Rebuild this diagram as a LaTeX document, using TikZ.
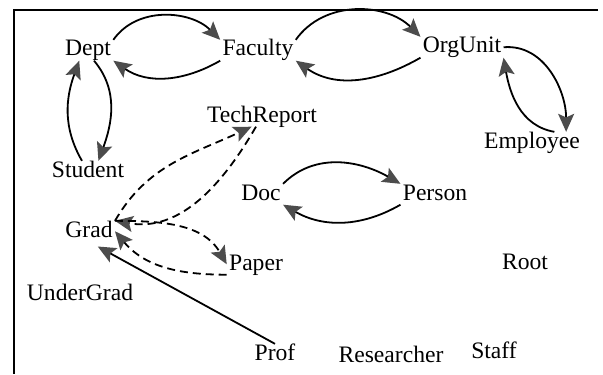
\documentclass[tikz,border=0pt]{standalone}
\usepackage{fontspec}
\setmainfont{Liberation Serif}
\usetikzlibrary{arrows.meta}
\begin{document}
\begin{tikzpicture}[x=0.5pt, y=0.5pt, text height=1.5ex, text depth=.25ex,
    every node/.style={font=\fontsize{11.8}{14}\selectfont, inner sep=1pt, anchor=base},
    link/.style={line width=0.9pt, -{Stealth[length=9pt, width=8pt, inset=1.8pt, color=black!70]}},
    reflink/.style={link, dash pattern=on 4pt off 2.5pt}]
    \useasboundingbox (0,0) rectangle (603,-374);
    % frame
    \draw[line width=0.9pt] (598,-10) -- (14,-10) -- (14,-374);
    % place nodes
    \node (Dept) at (88,-56) {Dept};
    \node (Faculty) at (258,-56) {Faculty};
    \node (OrgUnit) at (462,-53) {OrgUnit};
    \node (Employee) at (532,-148) {Employee};
    \node (TechReport) at (262,-122) {TechReport};
    \node (Student) at (88,-177) {Student};
    \node (Doc) at (261,-200) {Doc};
    \node (Person) at (435,-200) {Person};
    \node (Grad) at (89,-237) {Grad};
    \node (Paper) at (256,-270) {Paper};
    \node (UnderGrad) at (80,-300) {UnderGrad};
    \node (Root) at (525,-269) {Root};
    \node (Prof) at (275,-360) {Prof};
    \node (Researcher) at (391,-362) {Researcher};
    \node (Staff) at (494,-358) {Staff};
    % draw edges
    \draw[link] (Dept.north east) to[out=55, in=135] (Faculty.north west);
    \draw[link] (Faculty.south west) to[out=-150, in=-35] (Dept.south east);
    \draw[link] (Faculty.north east) to[out=55, in=135] (OrgUnit.north west);
    \draw[link] (OrgUnit.south west) to[out=-150, in=-35] (Faculty.south east);
    \draw[link] (OrgUnit.east) to[out=5, in=90] (Employee.17);
    \draw[link] (Employee.25) to[out=170, in=-80] (OrgUnit.south east);
    \draw[link] (Dept.-60) to[out=-50, in=70] (Student.45);
    \draw[link] (Student.120) to[out=120, in=-110] (Dept.-130);
    \draw[reflink] (Grad.north east) to[out=60, in=-155] (TechReport.-135);
    \draw[reflink] (TechReport.-120) to[out=-120, in=-10] (Grad.north east);
    \draw[reflink] (Grad.north east) to[out=0, in=120] (Paper.west);
    \draw[reflink] (Paper.south west) to[out=180, in=-50] (Grad.east);
    \draw[link] (Doc.north east) to[out=45, in=150] (Person.north west);
    \draw[link] (Person.south west) to[out=-150, in=-30] (Doc.south east);
    \draw[link, shorten >=5pt] (Prof.north) -- (Grad.south);
\end{tikzpicture}
\end{document}
